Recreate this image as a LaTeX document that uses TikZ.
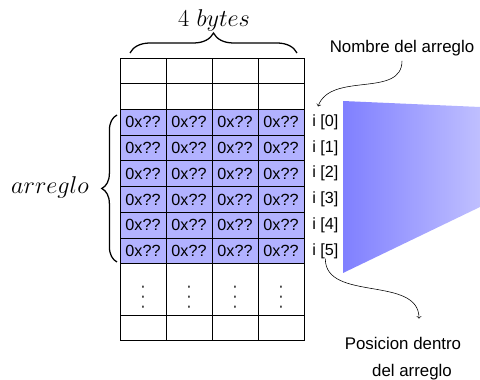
\documentclass[tikz,border=0pt]{standalone}
\usepackage{amsmath}
\usepackage{graphicx}
\usepackage{fontspec}
\setsansfont{Liberation Sans}
\usepackage{tikz}
\usetikzlibrary{calc,decorations.pathreplacing}

\begin{document}
\begin{tikzpicture}[
  celda/.style={font=\sffamily\fontsize{11.5}{13}\selectfont, inner sep=0pt},
  indice/.style={font=\sffamily\fontsize{11.5}{13}\selectfont, anchor=west, inner sep=0pt},
  nota/.style={font=\sffamily\fontsize{12}{14}\selectfont},
  linea/.style={line width=0.6pt},
  llave/.style={decorate, line width=0.9pt}
]
\useasboundingbox (0,0) rectangle (12,9.5);
% Trapecio
\shade[left color=blue!50, right color=blue!25] (8.575,6.975) -- (12,6.825) -- (12,4.325) -- (8.575,2.675) -- cycle;
% Celdas del arreglo
\fill[blue!30] (3,2.906) rectangle (7.6,6.764);
\foreach \r in {0,...,5}{
  \foreach \c in {0,...,3}{
    \node[celda] (c\r\c) at (3.575+1.15*\c, 6.4425-0.643*\r) {0x??};
  }
  \node[indice] (i\r) at (7.8, 6.4425-0.643*\r) {i [\r]};
}
% Puntos
\foreach \c in {0,...,3}
  \node (p\c) at (3.575+1.15*\c, 2.263) {\scalebox{1}[1.75]{$\vdots$}};
% Rejilla
\foreach \y in {8.05,7.407,6.764,6.121,5.478,4.835,4.192,3.549,2.906,1.62,0.977}
  \draw[linea] (3,\y) -- (7.6,\y);
\foreach \x in {3,4.15,5.3,6.45,7.6}
  \draw[linea] (\x,0.977) -- (\x,8.05);
% Llaves
\draw[llave, decoration={brace, amplitude=0.5cm}] (3.25,8.175) -- (7.425,8.175);
\node (bytes) at (5.35,9.0) {\LARGE $4\ bytes$};
\draw[llave, decoration={brace, amplitude=0.38cm}] (2.925,2.95) -- (2.925,6.625);
\node (arreglo) at (1.25,4.825) {\LARGE $arreglo$};
% Notas
\node[nota] (nombre) at (10.05,8.3) {Nombre del arreglo};
\node[nota] (pos1) at (10.075,0.925) {Posicion dentro};
\node[nota] (pos2) at (10.3,0.2) {del arreglo};
\draw[->] (nombre.south) to[out=-90, in=70] ($(i0.north west)+(0.15,0.2)$);
\draw[->] (i5.south) to[out=-90, in=90] ($(pos1.north)+(0.4,0.33)$);
\end{tikzpicture}
\end{document}
